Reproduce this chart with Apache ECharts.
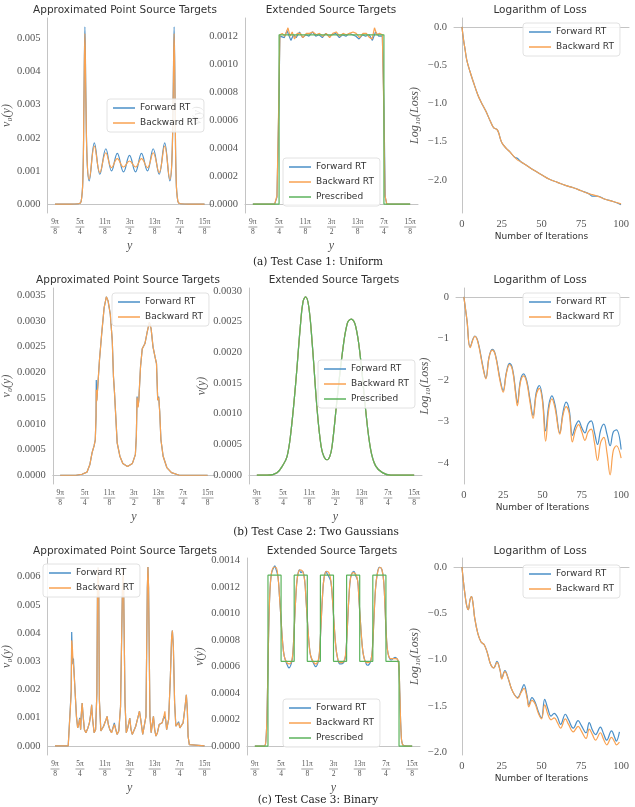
<!DOCTYPE html>
<html lang="en">
<head>
<meta charset="utf-8">
<script src="https://cdn.jsdelivr.net/npm/echarts@6/dist/echarts.min.js"></script>
</head>
<body style="margin:0;background:#fff">
<div id="container" style="width:635px;height:807px"></div>
<script>
// x positions are in units of pi/8 (9 -> 9pi/8 ... 15 -> 15pi/8)
const xTicks = [9, 10, 11, 12, 13, 14, 15];
const xTickNum = ['9π', '5π', '11π', '3π', '13π', '7π', '15π'];
const xTickDen = ['8', '4', '8', '2', '8', '4', '8'];
const iterTicks = [0, 25, 50, 75, 100];

// (a) uniform
const uniPtFwd = [[9,0],[9.6,0],[9.95,0.00001],[10.05,0.00008],[10.12,0.0008],[10.16,0.003],[10.2,0.00535],[10.24,0.0032],[10.29,0.0013],[10.37,0.0007],[10.58,0.00185],[10.8,0.0009],[11.04,0.00167],[11.27,0.001],[11.5,0.00153],[11.75,0.00097],[11.99,0.00147],[12.23,0.00097],[12.47,0.00153],[12.71,0.001],[12.94,0.00167],[13.18,0.0009],[13.4,0.00185],[13.61,0.0007],[13.69,0.0013],[13.74,0.0032],[13.78,0.00535],[13.82,0.003],[13.86,0.0008],[13.93,0.00008],[14.03,0.00001],[14.4,0],[15,0]];
const uniPtBwd = [[9,0],[9.6,0],[9.95,0.00001],[10.05,0.00008],[10.12,0.0008],[10.16,0.003],[10.2,0.00515],[10.24,0.0031],[10.29,0.0013],[10.37,0.00075],[10.58,0.00175],[10.8,0.00095],[11.04,0.00155],[11.27,0.0011],[11.5,0.00137],[11.75,0.00112],[11.99,0.0013],[12.23,0.00112],[12.47,0.00137],[12.71,0.0011],[12.94,0.00155],[13.18,0.00095],[13.4,0.00175],[13.61,0.00075],[13.69,0.0013],[13.74,0.0031],[13.78,0.00515],[13.82,0.003],[13.86,0.0008],[13.93,0.00008],[14.03,0.00001],[14.4,0],[15,0]];
const uniExtFwd = [[9,0],[9.83,0],[9.92,0.00005],[9.99,0.0007],[10.03,0.0012],[10.1,0.00121],[10.2,0.00119],[10.3,0.00124],[10.45,0.00117],[10.55,0.00121],[10.65,0.00119],[10.78,0.00123],[10.9,0.00119],[11.02,0.00121],[11.14,0.0012],[11.27,0.00123],[11.4,0.0012],[11.52,0.00121],[11.65,0.00119],[11.78,0.00122],[11.9,0.0012],[12.03,0.00121],[12.16,0.00122],[12.3,0.00119],[12.42,0.00121],[12.55,0.0012],[12.68,0.00122],[12.8,0.00121],[12.93,0.0012],[13.05,0.00118],[13.18,0.00121],[13.3,0.0012],[13.44,0.00121],[13.56,0.00117],[13.68,0.00123],[13.8,0.0012],[13.94,0.0012],[14.0,0.0007],[14.05,0.00005],[14.11,0],[15,0]];
const uniExtBwd = [[9,0],[9.83,0],[9.92,0.00006],[9.99,0.00074],[10.03,0.00121],[10.12,0.00122],[10.22,0.0012],[10.34,0.00126],[10.42,0.0012],[10.5,0.00123],[10.59,0.00118],[10.69,0.00122],[10.81,0.00122],[10.91,0.00119],[11.04,0.00122],[11.16,0.00122],[11.29,0.00123],[11.42,0.00121],[11.54,0.00122],[11.67,0.0012],[11.8,0.00122],[11.93,0.00119],[12.05,0.00122],[12.18,0.00123],[12.31,0.0012],[12.44,0.00122],[12.56,0.00121],[12.69,0.00122],[12.82,0.00123],[12.94,0.00122],[13.07,0.00119],[13.2,0.00122],[13.33,0.00122],[13.45,0.00119],[13.55,0.00118],[13.64,0.00126],[13.73,0.00121],[13.83,0.00122],[13.94,0.00121],[13.99,0.00074],[14.04,0.00006],[14.11,0],[15,0]];
const uniExtPres = [[9,0],[10,0.00121],[14,0],[15,0]];
const lossUniIter = [0,1,2,3,5,7,10,12,15,18,20,22,23,25,28,30,33,35,37,40,45,50,55,60,65,70,75,80,82,85,90,95,100];
const lossUniFwd = [0,-0.17,-0.3,-0.43,-0.58,-0.71,-0.89,-0.98,-1.1,-1.24,-1.32,-1.34,-1.38,-1.51,-1.59,-1.63,-1.7,-1.72,-1.76,-1.8,-1.87,-1.93,-1.99,-2.03,-2.07,-2.1,-2.14,-2.18,-2.21,-2.21,-2.25,-2.28,-2.32];
const lossUniBwd = [0,-0.17,-0.3,-0.43,-0.58,-0.71,-0.89,-0.98,-1.1,-1.24,-1.32,-1.34,-1.38,-1.51,-1.59,-1.63,-1.7,-1.74,-1.76,-1.8,-1.87,-1.93,-1.99,-2.03,-2.07,-2.1,-2.14,-2.18,-2.19,-2.21,-2.25,-2.28,-2.31];

// (b) two gaussians
const gaussPtFwd = [[9,0],[9.64,0],[9.89,0.00002],[10.09,0.00006],[10.21,0.00021],[10.3,0.00044],[10.38,0.00057],[10.43,0.00069],[10.46,0.00114],[10.47,0.00185],[10.49,0.00146],[10.53,0.00172],[10.6,0.00224],[10.69,0.00275],[10.79,0.00326],[10.88,0.00347],[10.95,0.00339],[11.04,0.00313],[11.12,0.00262],[11.17,0.00191],[11.21,0.00162],[11.27,0.00159],[11.32,0.00063],[11.43,0.00037],[11.55,0.00023],[11.74,0.00017],[11.94,0.00023],[12.06,0.0004],[12.1,0.00076],[12.13,0.00153],[12.17,0.00134],[12.2,0.00146],[12.27,0.00211],[12.34,0.00246],[12.45,0.00256],[12.54,0.00278],[12.63,0.00297],[12.7,0.00285],[12.78,0.00249],[12.86,0.0023],[12.92,0.00217],[12.97,0.00146],[13.01,0.00153],[13.05,0.00124],[13.1,0.00069],[13.19,0.00037],[13.34,0.00015],[13.53,0.00005],[13.85,0],[15,0]];
const gaussPtBwd = [[9,0],[9.64,0],[9.89,0.00002],[10.09,0.00006],[10.21,0.00021],[10.3,0.00044],[10.38,0.00057],[10.43,0.00069],[10.46,0.00114],[10.47,0.00166],[10.49,0.00144],[10.53,0.00172],[10.6,0.00224],[10.69,0.00275],[10.79,0.00326],[10.88,0.00347],[10.95,0.00339],[11.04,0.00313],[11.12,0.00262],[11.17,0.00191],[11.21,0.00162],[11.27,0.00159],[11.32,0.00063],[11.43,0.00037],[11.55,0.00023],[11.74,0.00017],[11.94,0.00023],[12.06,0.0004],[12.1,0.00076],[12.13,0.00151],[12.17,0.00132],[12.2,0.00146],[12.27,0.00211],[12.34,0.00246],[12.45,0.00256],[12.54,0.00278],[12.63,0.00297],[12.7,0.00285],[12.78,0.00249],[12.86,0.0023],[12.92,0.00217],[12.97,0.00146],[13.01,0.00151],[13.05,0.00124],[13.1,0.00069],[13.19,0.00037],[13.34,0.00015],[13.53,0.00005],[13.85,0],[15,0]];
const gaussExtVals = [[9,0],[9.4,0],[9.77,0.00004],[10.02,0.00018],[10.15,0.0003],[10.28,0.00063],[10.47,0.00144],[10.66,0.00243],[10.76,0.00282],[10.86,0.0029],[10.98,0.00274],[11.11,0.00215],[11.3,0.00106],[11.45,0.00047],[11.56,0.0003],[11.68,0.00025],[11.78,0.0003],[11.87,0.00047],[12.06,0.00123],[12.26,0.00198],[12.45,0.00247],[12.6,0.00254],[12.77,0.00242],[12.96,0.00188],[13.15,0.00106],[13.34,0.00042],[13.53,0.00015],[13.79,0.00004],[14.1,0],[15,0]];
const lossGaussIter = [0,2,4,7,9,12,14,16,18,20,23,25,27,29,31,33,34,36,38,40,42,44,46,48,50,52,54,56,58,61,63,65,67,69,71,73,75,77,79,81,83,85,87,89,91,93,95,97,100];
const lossGaussFwd = [0,-0.57,-1.2,-0.94,-1.08,-1.65,-1.95,-1.45,-1.26,-1.38,-1.98,-2.25,-1.82,-1.6,-1.74,-2.3,-2.55,-2.0,-1.85,-2.02,-2.45,-2.85,-2.3,-2.13,-2.45,-3.22,-2.6,-2.38,-2.6,-3.27,-2.78,-2.53,-2.72,-3.33,-3.1,-2.98,-3.15,-3.27,-3.05,-2.98,-3.25,-3.55,-3.2,-3.06,-3.3,-3.58,-3.25,-3.2,-3.67];
const lossGaussBwd = [0,-0.57,-1.22,-0.95,-1.1,-1.68,-1.97,-1.46,-1.28,-1.4,-2.02,-2.29,-1.85,-1.63,-1.78,-2.36,-2.62,-2.05,-1.9,-2.06,-2.52,-2.92,-2.36,-2.2,-2.52,-3.47,-2.7,-2.45,-2.68,-3.3,-2.85,-2.64,-2.8,-3.49,-3.2,-3.07,-3.25,-3.45,-3.25,-3.18,-3.5,-3.93,-3.5,-3.38,-3.75,-4.28,-3.7,-3.58,-3.88];

// (c) binary
const binPtFwd = [[9,0],[9.53,0],[9.61,0.00006],[9.65,0.00195],[9.67,0.00404],[9.69,0.0033],[9.72,0.0029],[9.74,0.0031],[9.76,0.00269],[9.81,0.00187],[9.86,0.00105],[9.91,0.00064],[9.95,0.00076],[9.99,0.001],[10.03,0.00058],[10.05,0.00105],[10.09,0.00152],[10.13,0.00105],[10.18,0.00058],[10.24,0.00047],[10.32,0.00064],[10.38,0.00082],[10.42,0.00105],[10.44,0.00117],[10.47,0.00146],[10.51,0.00094],[10.57,0.00047],[10.63,0.00058],[10.68,0.00187],[10.705,0.0055],[10.73,0.00632],[10.755,0.0055],[10.78,0.00164],[10.84,0.00053],[10.9,0.00058],[10.95,0.0007],[11.0,0.00082],[11.05,0.00094],[11.09,0.00105],[11.14,0.00076],[11.2,0.00058],[11.27,0.00047],[11.33,0.00053],[11.38,0.00082],[11.41,0.00086],[11.44,0.00058],[11.49,0.00041],[11.56,0.00053],[11.63,0.0014],[11.705,0.0055],[11.73,0.00626],[11.755,0.0055],[11.81,0.00152],[11.86,0.00047],[11.92,0.00064],[12.0,0.00099],[12.05,0.00058],[12.1,0.00041],[12.16,0.00053],[12.24,0.0007],[12.32,0.00099],[12.39,0.00123],[12.44,0.00094],[12.52,0.00041],[12.58,0.00047],[12.65,0.00105],[12.705,0.0056],[12.73,0.00634],[12.755,0.0056],[12.81,0.00105],[12.86,0.00047],[12.91,0.00082],[12.95,0.00105],[13.0,0.00058],[13.05,0.00035],[13.11,0.00047],[13.18,0.00076],[13.24,0.0007],[13.3,0.00082],[13.37,0.00105],[13.41,0.00112],[13.44,0.00094],[13.48,0.00058],[13.56,0.00094],[13.63,0.00246],[13.68,0.00386],[13.71,0.00409],[13.75,0.00351],[13.8,0.00152],[13.85,0.0007],[13.9,0.00064],[13.96,0.00086],[14.01,0.00064],[14.06,0.00058],[14.14,0.00082],[14.22,0.0014],[14.27,0.00181],[14.31,0.00129],[14.34,0.00035],[14.39,0.00005],[14.47,0],[15,0]];
const binPtBwd = [[9,0],[9.53,0],[9.61,0.00006],[9.65,0.00187],[9.67,0.00374],[9.7,0.00345],[9.72,0.00304],[9.76,0.00269],[9.81,0.00187],[9.86,0.00105],[9.91,0.00064],[9.95,0.00076],[9.99,0.00096],[10.03,0.00058],[10.05,0.00105],[10.09,0.00152],[10.13,0.00105],[10.18,0.00058],[10.24,0.00047],[10.32,0.00064],[10.38,0.00082],[10.42,0.00105],[10.44,0.00117],[10.47,0.00146],[10.51,0.00094],[10.57,0.00047],[10.63,0.00058],[10.68,0.00187],[10.705,0.0055],[10.73,0.00632],[10.755,0.0055],[10.78,0.00164],[10.84,0.00053],[10.9,0.00058],[10.95,0.0007],[11.0,0.00082],[11.05,0.00094],[11.09,0.00105],[11.14,0.00076],[11.2,0.00058],[11.27,0.00047],[11.33,0.00053],[11.38,0.00076],[11.41,0.00082],[11.44,0.00058],[11.49,0.00041],[11.56,0.00053],[11.63,0.0014],[11.705,0.0055],[11.73,0.00626],[11.755,0.0055],[11.81,0.00152],[11.86,0.00047],[11.92,0.00064],[12.0,0.00099],[12.05,0.00058],[12.1,0.00041],[12.16,0.00053],[12.24,0.0007],[12.32,0.00099],[12.39,0.00123],[12.44,0.00094],[12.52,0.00041],[12.58,0.00047],[12.65,0.00105],[12.705,0.0056],[12.73,0.00634],[12.755,0.0056],[12.81,0.00105],[12.86,0.00047],[12.91,0.00082],[12.95,0.00105],[13.0,0.00058],[13.05,0.00035],[13.11,0.00047],[13.18,0.00076],[13.24,0.0007],[13.3,0.00082],[13.37,0.00105],[13.41,0.00123],[13.44,0.00094],[13.48,0.00058],[13.56,0.00094],[13.63,0.00246],[13.68,0.00386],[13.71,0.00409],[13.75,0.00351],[13.8,0.00152],[13.85,0.0007],[13.9,0.00064],[13.96,0.00082],[14.01,0.00064],[14.06,0.00058],[14.14,0.00082],[14.22,0.0014],[14.27,0.00181],[14.31,0.00129],[14.34,0.00035],[14.39,0.00005],[14.47,0],[15,0]];
const binExtFwd = [[9,0],[9.35,0],[9.42,0.00004],[9.47,0.0003],[9.52,0.0008],[9.57,0.00115],[9.63,0.0013],[9.7,0.00134],[9.76,0.00136],[9.8,0.00134],[9.88,0.00128],[9.94,0.00113],[10.0,0.00095],[10.06,0.00078],[10.12,0.00068],[10.22,0.00062],[10.3,0.00059],[10.4,0.00063],[10.45,0.0007],[10.5,0.00088],[10.56,0.00112],[10.62,0.00127],[10.7,0.00133],[10.76,0.00131],[10.82,0.00132],[10.9,0.00125],[10.95,0.00111],[11.01,0.00093],[11.07,0.00077],[11.13,0.00068],[11.25,0.00062],[11.32,0.0006],[11.42,0.00064],[11.47,0.00072],[11.52,0.0009],[11.58,0.00113],[11.64,0.00127],[11.72,0.00132],[11.76,0.0013],[11.82,0.00128],[11.9,0.00124],[11.96,0.00111],[12.02,0.00093],[12.08,0.00077],[12.14,0.00068],[12.24,0.00062],[12.3,0.00062],[12.43,0.00065],[12.48,0.00073],[12.53,0.0009],[12.59,0.00113],[12.65,0.00127],[12.72,0.00131],[12.78,0.00132],[12.84,0.00129],[12.92,0.00125],[12.97,0.00111],[13.03,0.00093],[13.09,0.00077],[13.15,0.00068],[13.25,0.00062],[13.3,0.00061],[13.43,0.00065],[13.49,0.00075],[13.54,0.00095],[13.6,0.00118],[13.67,0.0013],[13.75,0.00135],[13.85,0.00133],[13.92,0.00123],[13.97,0.00103],[14.02,0.00082],[14.08,0.0007],[14.2,0.00065],[14.35,0.00067],[14.42,0.00066],[14.48,0.00063],[14.53,0.0004],[14.58,0.0001],[14.64,0.00001],[14.8,0],[15,0]];
const binExtBwd = [[9,0],[9.35,0],[9.42,0.00004],[9.47,0.0003],[9.52,0.0008],[9.57,0.00115],[9.63,0.0013],[9.72,0.00135],[9.8,0.00135],[9.88,0.00128],[9.94,0.00113],[10.0,0.00095],[10.06,0.00078],[10.12,0.00068],[10.22,0.00063],[10.32,0.00062],[10.4,0.00064],[10.45,0.0007],[10.5,0.00088],[10.56,0.00112],[10.62,0.00127],[10.72,0.00133],[10.82,0.00132],[10.9,0.00125],[10.95,0.00111],[11.01,0.00093],[11.07,0.00077],[11.13,0.00068],[11.25,0.00063],[11.33,0.00062],[11.42,0.00065],[11.47,0.00072],[11.52,0.0009],[11.58,0.00113],[11.64,0.00127],[11.74,0.00132],[11.82,0.00131],[11.9,0.00125],[11.96,0.00111],[12.02,0.00093],[12.08,0.00077],[12.14,0.00068],[12.24,0.00063],[12.34,0.00063],[12.43,0.00066],[12.48,0.00073],[12.53,0.0009],[12.59,0.00113],[12.65,0.00127],[12.75,0.00131],[12.84,0.0013],[12.92,0.00125],[12.97,0.00111],[13.03,0.00093],[13.09,0.00077],[13.15,0.00068],[13.25,0.00063],[13.34,0.00063],[13.43,0.00065],[13.49,0.00075],[13.54,0.00095],[13.6,0.00118],[13.67,0.0013],[13.77,0.00135],[13.85,0.00133],[13.92,0.00123],[13.97,0.00103],[14.02,0.00082],[14.08,0.0007],[14.18,0.00066],[14.3,0.00066],[14.4,0.00066],[14.48,0.00063],[14.53,0.0004],[14.58,0.0001],[14.64,0.00001],[14.8,0],[15,0]];
const binExtPres = [[9,0],[9.5,0.00129],[10,0.00064],[10.5,0.00129],[11,0.00064],[11.5,0.00129],[12,0.00064],[12.5,0.00129],[13,0.00064],[13.5,0.00129],[14,0.00064],[14.5,0],[15,0]];
const lossBinIter = [0,1,2,3,4,5,6,7,8,10,12,14,16,18,20,22,24,25,27,29,31,33,35,37,39,41,42,44,46,48,50,52,54,56,58,60,62,65,67,70,73,75,78,80,82,84,87,89,91,94,96,97,99];
const lossBinFwd = [0,-0.17,-0.31,-0.42,-0.46,-0.36,-0.32,-0.4,-0.55,-0.72,-0.81,-0.84,-0.93,-1.05,-1.09,-1.02,-1.12,-1.2,-1.12,-1.2,-1.31,-1.38,-1.41,-1.35,-1.27,-1.4,-1.49,-1.41,-1.46,-1.56,-1.63,-1.43,-1.53,-1.61,-1.58,-1.62,-1.7,-1.59,-1.65,-1.74,-1.66,-1.71,-1.79,-1.68,-1.76,-1.81,-1.73,-1.8,-1.87,-1.77,-1.84,-1.88,-1.78];
const lossBinBwd = [0,-0.17,-0.31,-0.42,-0.46,-0.36,-0.32,-0.4,-0.55,-0.72,-0.81,-0.84,-0.93,-1.05,-1.09,-1.03,-1.12,-1.21,-1.13,-1.2,-1.31,-1.38,-1.42,-1.36,-1.31,-1.42,-1.51,-1.44,-1.48,-1.58,-1.64,-1.49,-1.59,-1.65,-1.63,-1.68,-1.74,-1.64,-1.7,-1.78,-1.72,-1.77,-1.85,-1.75,-1.81,-1.87,-1.79,-1.86,-1.92,-1.84,-1.89,-1.92,-1.89];

const BLUE = '#4a8fc7', ORANGE = '#f8a252', GREEN = '#5cb35c';
const SANS = 'DejaVu Sans', SERIF = 'Liberation Serif';
const AXIS_C = '#c4c4c4', LABEL_C = '#555';

const grids = [
  {left: 38, top: 18, width: 174, height: 195},
  {left: 245, top: 18, width: 173, height: 195},
  {left: 454, top: 18, width: 175, height: 195},
  {left: 42, top: 288, width: 173, height: 196},
  {left: 249, top: 288, width: 173, height: 196},
  {left: 456, top: 288, width: 173, height: 196},
  {left: 38, top: 558, width: 174, height: 197},
  {left: 247, top: 558, width: 173, height: 197},
  {left: 454, top: 558, width: 175, height: 197}
];

function pairs(xs, ys) { return xs.map((x, i) => [x, ys[i]]); }

function fracLabel(v) {
  const i = xTicks.indexOf(v);
  const wide = xTickNum[i].length > 2;
  return '{n|' + xTickNum[i] + '}\n{' + (wide ? 'L' : 'l') + '|}\n{d|' + xTickDen[i] + '}';
}

function xPos(i) {
  return {
    type: 'value', gridIndex: i, min: 8.7, max: 15.3,
    axisLine: {lineStyle: {color: AXIS_C, width: 1}},
    axisTick: {show: false}, splitLine: {show: false},
    axisLabel: {
      customValues: xTicks, margin: 5, formatter: fracLabel,
      rich: {
        n: {fontFamily: SERIF, fontSize: 7.5, color: LABEL_C, lineHeight: 8, align: 'center'},
        d: {fontFamily: SERIF, fontSize: 7.5, color: LABEL_C, lineHeight: 8, align: 'center'},
        l: {width: 9, height: 0.7, backgroundColor: '#777', lineHeight: 2, align: 'center'},
        L: {width: 12, height: 0.7, backgroundColor: '#777', lineHeight: 2, align: 'center'}
      }
    },
    name: 'y', nameLocation: 'middle', nameGap: 27,
    nameTextStyle: {fontFamily: SERIF, fontStyle: 'italic', fontSize: 12, color: LABEL_C}
  };
}

function xIter(i) {
  return {
    type: 'value', gridIndex: i, min: -5, max: 105,
    axisLine: {lineStyle: {color: AXIS_C, width: 1}},
    axisTick: {show: false}, splitLine: {show: false},
    axisLabel: {customValues: iterTicks, margin: 6, fontFamily: SERIF, fontSize: 10.5, color: LABEL_C},
    name: 'Number of Iterations', nameLocation: 'middle', nameGap: 19,
    nameTextStyle: {fontFamily: SANS, fontSize: 9, color: '#333'}
  };
}

function yAx(i, min, max, vals, dec, name, gap) {
  return {
    type: 'value', gridIndex: i, min: min, max: max,
    axisLine: {show: true, lineStyle: {color: AXIS_C, width: 1}},
    axisTick: {show: false}, splitLine: {show: false},
    axisLabel: {
      customValues: vals, margin: 7, fontFamily: SERIF, fontSize: 10.5, color: LABEL_C,
      formatter: v => v.toFixed(dec).replace('-', '−')
    },
    name: name, nameLocation: 'middle', nameGap: gap,
    nameTextStyle: {fontFamily: SERIF, fontStyle: 'italic', fontSize: 12, color: LABEL_C}
  };
}

function line(name, data, color, i, extra) {
  return Object.assign({
    name: name, type: 'line', xAxisIndex: i, yAxisIndex: i, data: data,
    symbol: 'none', smooth: false, animation: false,
    lineStyle: {width: 1.2, color: color}, itemStyle: {color: color}
  }, extra || {});
}

function legend(left, top, names) {
  return {
    left: left, top: top, orient: 'vertical', data: names, selectedMode: false,
    icon: 'rect', itemWidth: 22, itemHeight: 1.5, itemGap: 5, padding: [4, 6, 4, 6],
    backgroundColor: 'rgba(255,255,255,0.85)', borderColor: '#e2e2e2', borderWidth: 1, borderRadius: 3,
    textStyle: {fontFamily: SANS, fontSize: 9, color: '#333', lineHeight: 10}
  };
}

function txt(x, y, text, font, size, color) {
  return {
    type: 'text', x: x, y: y, silent: true,
    style: {text: text, fontFamily: font, fontSize: size, fill: color, align: 'center', verticalAlign: 'middle'}
  };
}

const two = ['Forward RT', 'Backward RT'];
const three = ['Forward RT', 'Backward RT', 'Prescribed'];
const sm = {smooth: 0.4};

const option = {
  backgroundColor: '#fff',
  grid: grids,
  xAxis: [xPos(0), xPos(1), xIter(2), xPos(3), xPos(4), xIter(5), xPos(6), xPos(7), xIter(8)],
  yAxis: [
    yAx(0, -0.00027, 0.00562, [0, 0.001, 0.002, 0.003, 0.004, 0.005], 3, 'ν₀(y)', 30),
    yAx(1, -0.0000635, 0.00133, [0, 0.0002, 0.0004, 0.0006, 0.0008, 0.001, 0.0012], 4, 'ν(y)', 41),
    yAx(2, -2.43, 0.115, [0, -0.5, -1, -1.5, -2], 1, 'Log₁₀(Loss)', 33),
    yAx(3, -0.00017, 0.00364, [0, 0.0005, 0.001, 0.0015, 0.002, 0.0025, 0.003, 0.0035], 4, 'ν₀(y)', 37),
    yAx(4, -0.000145, 0.003045, [0, 0.0005, 0.001, 0.0015, 0.002, 0.0025, 0.003], 4, 'ν(y)', 41),
    yAx(5, -4.5, 0.215, [0, -1, -2, -3, -4], 0, 'Log₁₀(Loss)', 25),
    yAx(6, -0.00032, 0.00666, [0, 0.001, 0.002, 0.003, 0.004, 0.005, 0.006], 3, 'ν₀(y)', 33),
    yAx(7, -0.0000675, 0.00142, [0, 0.0002, 0.0004, 0.0006, 0.0008, 0.001, 0.0012, 0.0014], 4, 'ν(y)', 41),
    yAx(8, -2.03, 0.0965, [0, -0.5, -1, -1.5, -2], 1, 'Log₁₀(Loss)', 33)
  ],
  legend: [
    legend(107, 99, two), legend(283, 158, three), legend(523, 23, two),
    legend(112, 293, two), legend(318, 360, three), legend(523, 293, two),
    legend(43, 564, two), legend(283, 699, three), legend(523, 565, two)
  ],
  series: [
    line('Forward RT', uniPtFwd, BLUE, 0, sm),
    line('Backward RT', uniPtBwd, ORANGE, 0, sm),
    line('Forward RT', uniExtFwd, BLUE, 1),
    line('Backward RT', uniExtBwd, ORANGE, 1),
    line('Prescribed', uniExtPres, GREEN, 1, {step: 'end'}),
    line('Forward RT', pairs(lossUniIter, lossUniFwd), BLUE, 2, sm),
    line('Backward RT', pairs(lossUniIter, lossUniBwd), ORANGE, 2, sm),
    line('Forward RT', gaussPtFwd, BLUE, 3),
    line('Backward RT', gaussPtBwd, ORANGE, 3),
    line('Forward RT', gaussExtVals, BLUE, 4, sm),
    line('Backward RT', gaussExtVals, ORANGE, 4, sm),
    line('Prescribed', gaussExtVals, GREEN, 4, sm),
    line('Forward RT', pairs(lossGaussIter, lossGaussFwd), BLUE, 5, sm),
    line('Backward RT', pairs(lossGaussIter, lossGaussBwd), ORANGE, 5, sm),
    line('Forward RT', binPtFwd, BLUE, 6),
    line('Backward RT', binPtBwd, ORANGE, 6),
    line('Forward RT', binExtFwd, BLUE, 7, sm),
    line('Backward RT', binExtBwd, ORANGE, 7, sm),
    line('Prescribed', binExtPres, GREEN, 7, {step: 'end'}),
    line('Forward RT', pairs(lossBinIter, lossBinFwd), BLUE, 8, sm),
    line('Backward RT', pairs(lossBinIter, lossBinBwd), ORANGE, 8, sm)
  ],
  graphic: [
    txt(125, 10, 'Approximated Point Source Targets', SANS, 10.5, '#333'),
    txt(331, 10, 'Extended Source Targets', SANS, 10.5, '#333'),
    txt(540, 10, 'Logarithm of Loss', SANS, 10.5, '#333'),
    txt(318, 262, '(a) Test Case 1: Uniform', 'DejaVu Serif', 10.5, '#222'),
    txt(128, 280, 'Approximated Point Source Targets', SANS, 10.5, '#333'),
    txt(334, 280, 'Extended Source Targets', SANS, 10.5, '#333'),
    txt(540, 280, 'Logarithm of Loss', SANS, 10.5, '#333'),
    txt(316, 532, '(b) Test Case 2: Two Gaussians', 'DejaVu Serif', 10.5, '#222'),
    txt(125, 551, 'Approximated Point Source Targets', SANS, 10.5, '#333'),
    txt(332, 551, 'Extended Source Targets', SANS, 10.5, '#333'),
    txt(540, 551, 'Logarithm of Loss', SANS, 10.5, '#333'),
    txt(318, 800, '(c) Test Case 3: Binary', 'DejaVu Serif', 10.5, '#222')
  ]
};

const chart = echarts.init(document.getElementById('container'), null, {renderer: 'canvas'});
chart.setOption(option);
</script>
</body>
</html>
